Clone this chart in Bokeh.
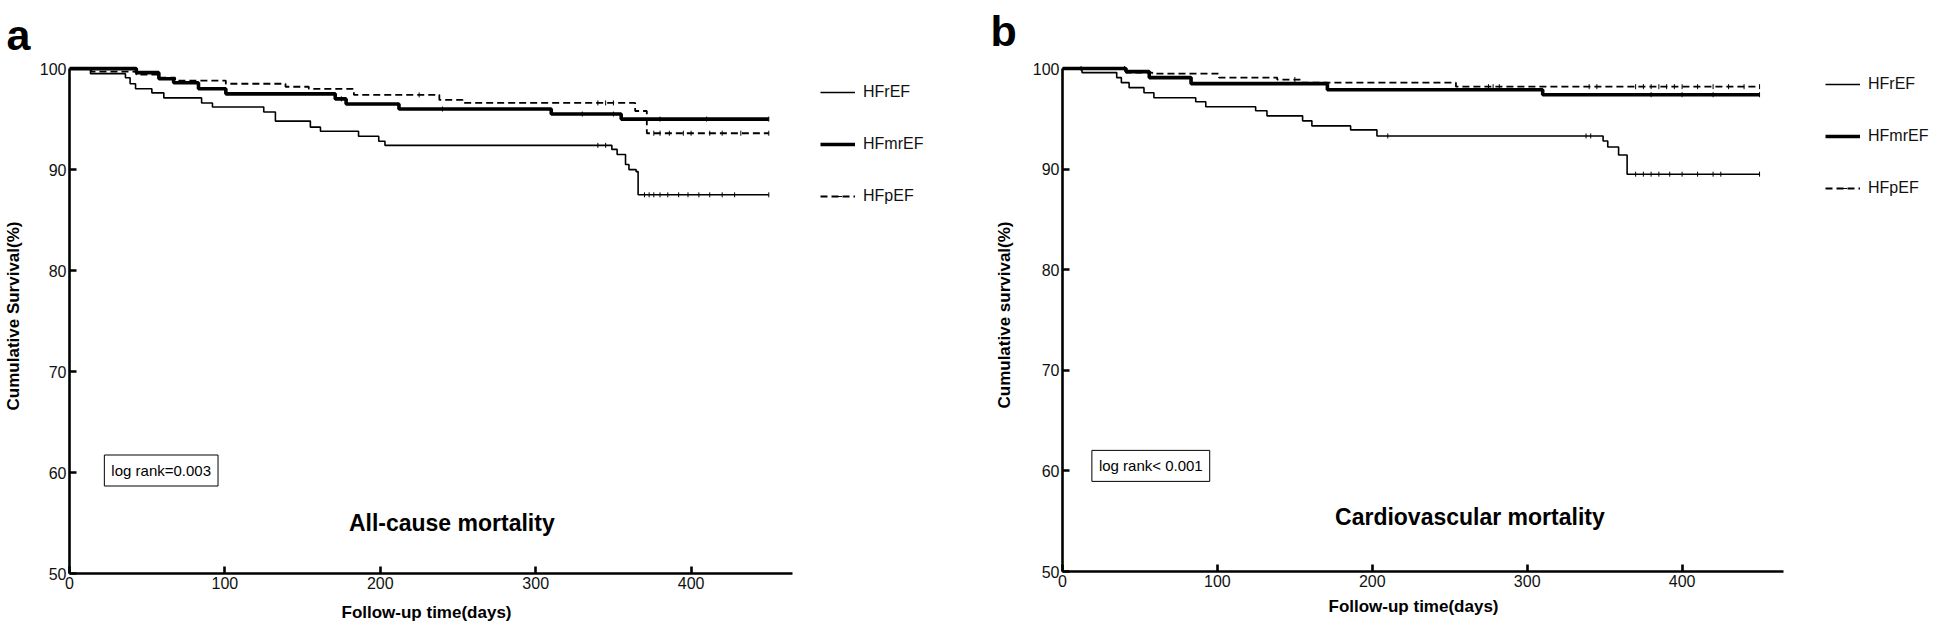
import numpy as np
from bokeh.plotting import figure
from bokeh.models import Range1d, FixedTicker, Label, Legend, LegendItem, Title
from bokeh.layouts import row
from bokeh.embed import file_html
from bokeh.resources import INLINE

FONT = "Liberation Sans"
groups = ["HFrEF", "HFmrEF", "HFpEF"]
x_ticks = [0, 100, 200, 300, 400]
y_ticks = [50, 60, 70, 80, 90, 100]
X_AXIS_END = 465.3

# ---------------- Panel a : all-cause mortality ----------------
a_hfref_t = [0, 13.5, 36, 39, 42.5, 53, 60.7, 85, 92, 125, 132.5, 155, 161.5, 186, 199, 203,
             349, 352.4, 357.8, 360, 364.6, 365.9, 450]
a_hfref_s = [100, 99.5, 99.1, 98.5, 98.0, 97.6, 97.1, 96.6, 96.2, 95.7, 94.8, 94.2, 93.8, 93.3, 92.8, 92.4,
             92.0, 91.5, 90.5, 90.0, 89.8, 87.5, 87.5]
a_hfmref_t = [0, 43, 57.5, 67, 83, 100.6, 171, 178, 212, 310, 355, 450]
a_hfmref_s = [100, 99.6, 99.0, 98.6, 98.0, 97.5, 97.0, 96.5, 96.0, 95.5, 95.0, 95.0]
a_hfpef_t = [0, 14, 43, 57, 68, 100.6, 139, 154, 183, 238, 253, 364, 371.5, 450]
a_hfpef_s = [100, 99.7, 99.4, 99.1, 98.8, 98.5, 98.2, 98.0, 97.4, 96.9, 96.6, 95.8, 93.6, 93.6]
a_cens_hfref = [340, 345, 370, 373, 376, 380, 385, 392, 398, 405, 412, 420, 428, 450]
a_cens_hfmref = [175, 240, 330, 350, 380, 410, 450]
a_cens_hfpef = [225, 340, 345, 350, 376, 380, 386, 395, 400, 412, 420, 432, 450]

# ---------------- Panel b : cardiovascular mortality ----------------
b_hfref_t = [0, 12.6, 35, 38, 43, 52.6, 59, 86, 92.5, 124.7, 132, 155, 161, 186, 203,
             349, 352, 359, 364.5, 450]
b_hfref_s = [100, 99.6, 99.1, 98.6, 98.1, 97.6, 97.1, 96.7, 96.2, 95.8, 95.3, 94.8, 94.3, 93.9, 93.3,
             92.8, 92.2, 91.4, 89.5, 89.5]
b_hfmref_t = [0, 41, 56, 83, 171, 310, 450]
b_hfmref_s = [100, 99.7, 99.1, 98.5, 97.9, 97.4, 97.4]
b_hfpef_t = [0, 41, 58, 101, 138.6, 154, 254, 450]
b_hfpef_s = [100, 99.6, 99.5, 99.1, 98.9, 98.6, 98.2, 98.2]
b_cens_hfref = [210, 338, 341, 370, 375, 380, 385, 392, 400, 410, 420, 425, 450]
b_cens_hfmref = [380, 400, 420, 450]
b_cens_hfpef = [12, 40, 150, 275, 278, 282, 340, 345, 370, 375, 380, 385, 390, 395, 400, 410, 420, 430, 440, 450]


def step_at(ts, ss, t):
    i = np.searchsorted(np.asarray(ts), t, side="right") - 1
    return [ss[k] for k in i]


STYLES = {
    "HFrEF": dict(line_width=1.6, line_dash="solid"),
    "HFmrEF": dict(line_width=3.6, line_dash="solid"),
    "HFpEF": dict(line_width=1.8, line_dash="7 4"),
}


def make_panel(series, letter, ylabel, title, logrank, logrank_xy, title_xy,
               px_per_day, frame_w, frame_h, bl, br, bt, bb,
               ylab_standoff, xlab_offset, xlab_standoff, leg_xy, letter_offset, letter_standoff):
    p = figure(title=None, frame_width=frame_w, frame_height=frame_h,
               min_border_left=bl, min_border_right=br, min_border_top=bt, min_border_bottom=bb,
               x_range=Range1d(0, frame_w / px_per_day), y_range=Range1d(50, 101),
               output_backend="svg", toolbar_location=None)
    p.outline_line_color = None
    p.grid.visible = False
    p.background_fill_color = "white"
    p.border_fill_color = "white"

    for ax in (p.xaxis[0], p.yaxis[0]):
        ax.axis_line_width = 2.6
        ax.axis_line_color = "black"
        ax.major_tick_in = 7
        ax.major_tick_out = 0
        ax.major_tick_line_width = 2.6
        ax.minor_tick_line_color = None
        ax.major_label_text_font = FONT
        ax.major_label_text_font_size = "16px"
        ax.major_label_text_color = "#111111"
        ax.axis_label_text_font = FONT
        ax.axis_label_text_font_style = "bold"
        ax.axis_label_text_font_size = "17px"
        ax.axis_label_text_color = "black"
    p.xaxis.ticker = FixedTicker(ticks=x_ticks)
    p.yaxis.ticker = FixedTicker(ticks=y_ticks)
    p.yaxis.bounds = (50, 100)
    p.xaxis.bounds = (0, X_AXIS_END)
    p.xaxis.major_label_standoff = 3
    p.yaxis.major_label_standoff = 3
    p.yaxis.axis_label = ylabel
    p.yaxis.axis_label_standoff = ylab_standoff

    # x-axis title, positioned under the axis line (frame also holds the legend)
    p.add_layout(Title(text="Follow-up time(days)", align="left", offset=xlab_offset,
                       standoff=xlab_standoff, text_font=FONT, text_font_style="bold",
                       text_font_size="17px", text_color="black"), "below")

    items = []
    for name, (ts, ss, cens) in zip(groups, series):
        st = STYLES[name]
        r = p.step(ts, ss, mode="after", line_color="black", line_width=st["line_width"],
                   line_dash=st["line_dash"])
        cr = p.scatter(cens, step_at(ts, ss, cens), marker="dash", angle=np.pi / 2, size=5,
                       line_color="black", line_width=1.0)
        items.append(LegendItem(label=name, renderers=[r, cr]))

    leg = Legend(items=items, location=leg_xy, orientation="vertical",
                 glyph_width=35, glyph_height=20, label_height=20, label_width=40,
                 label_standoff=8, spacing=32, padding=0, margin=0,
                 border_line_color=None, background_fill_alpha=0,
                 label_text_font=FONT, label_text_font_size="16px", label_text_color="#111111")
    p.add_layout(leg, "center")

    p.add_layout(Label(x=title_xy[0], y=title_xy[1], text=title, text_font=FONT,
                       text_font_style="bold", text_font_size="23px", text_align="center",
                       text_baseline="middle", text_color="black"))
    p.add_layout(Label(x=logrank_xy[0], y=logrank_xy[1], text=logrank, text_font=FONT,
                       text_font_size="15px", text_align="center", text_baseline="middle",
                       text_color="black", border_line_color="black", border_line_width=1,
                       background_fill_color="white", padding=7))
    p.add_layout(Title(text=letter, align="left", offset=letter_offset, standoff=letter_standoff,
                       text_font=FONT, text_font_style="bold", text_font_size="43px",
                       text_color="black"), "above")
    return p


pa = make_panel(
    [(a_hfref_t, a_hfref_s, a_cens_hfref), (a_hfmref_t, a_hfmref_s, a_cens_hfmref),
     (a_hfpef_t, a_hfpef_s, a_cens_hfpef)],
    "a", "Cumulative Survival(%)", "All-cause mortality", "log rank=0.003",
    (59, 60.2), (246, 55.0),
    px_per_day=1.554, frame_w=858, frame_h=515, bl=63, br=4, bt=49, bb=59,
    ylab_standoff=14, xlab_offset=272, xlab_standoff=18,
    leg_xy=(723 + 28, 367), letter_offset=-63, letter_standoff=0)

pb = make_panel(
    [(b_hfref_t, b_hfref_s, b_cens_hfref), (b_hfmref_t, b_hfmref_s, b_cens_hfmref),
     (b_hfpef_t, b_hfpef_s, b_cens_hfpef)],
    "b", "Cumulative survival(%)", "Cardiovascular mortality", "log rank< 0.001",
    (57, 60.5), (263, 55.4),
    px_per_day=1.549, frame_w=870, frame_h=513, bl=131, br=2, bt=58, bb=52,
    ylab_standoff=16, xlab_offset=266, xlab_standoff=11,
    leg_xy=(721 + 42, 373), letter_offset=-72, letter_standoff=8)

layout = row(pa, pb)
open("out.html", "w").write(file_html(layout, INLINE))
